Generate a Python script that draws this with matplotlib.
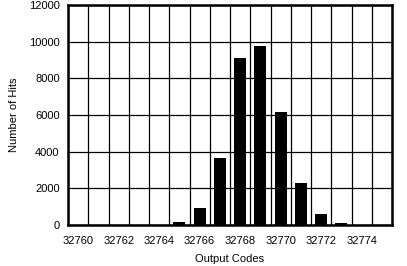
import matplotlib.pyplot as plt
import matplotlib.ticker as ticker

codes = [32760, 32761, 32762, 32763, 32764, 32765, 32766, 32767,
         32768, 32769, 32770, 32771, 32772, 32773, 32774, 32775]
hits = [0, 0, 0, 0, 0, 150, 920, 3650,
        9100, 9760, 6150, 2280, 600, 90, 0, 0]
tick_codes = [32760, 32762, 32764, 32766, 32768, 32770, 32772, 32774]

plt.rcParams['font.family'] = ['Liberation Sans', 'DejaVu Sans']

fig = plt.figure(figsize=(4.07, 2.66), dpi=100)
ax = fig.add_axes([68 / 407, 41 / 266, 324 / 407, 220 / 266])

ax.bar(codes, hits, width=0.6, color='black', zorder=3)

ax.set_xlim(32759.5, 32775.5)
ax.set_ylim(0, 12000)
ax.xaxis.set_major_locator(ticker.FixedLocator(tick_codes))
ax.xaxis.set_minor_locator(ticker.MultipleLocator(1, offset=0.5))
ax.yaxis.set_major_locator(ticker.MultipleLocator(2000))
ax.xaxis.set_major_formatter(ticker.FormatStrFormatter('%d'))
ax.grid(True, which='minor', axis='x', color='black', linewidth=0.9)
ax.grid(True, which='major', axis='y', color='black', linewidth=0.9)
ax.tick_params(which='both', length=0, labelsize=8, pad=6)
ax.tick_params(axis='x', pad=8)
for s in ax.spines.values():
    s.set_linewidth(1.8)
ax.set_xlabel('Output Codes', fontsize=8, labelpad=6)
ax.set_ylabel('Number of Hits', fontsize=8, labelpad=7)

fig.savefig('out.png', dpi=100)
